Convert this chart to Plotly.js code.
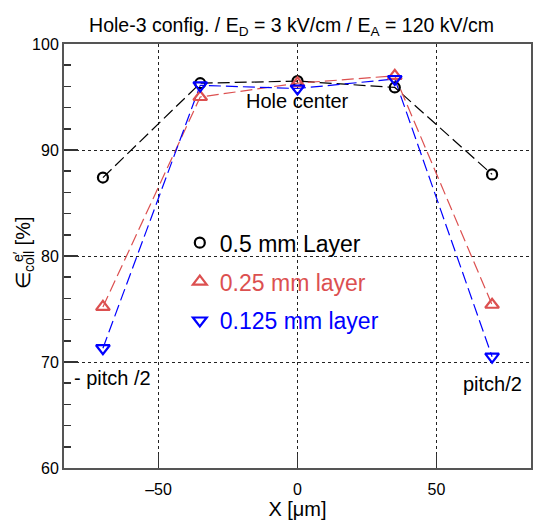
<!DOCTYPE html>
<html>
<head>
<meta charset="utf-8">
<script src="https://cdn.plot.ly/plotly-3.0.1.min.js"></script>
<style>html,body{margin:0;padding:0;background:#fff;}#chart{width:550px;height:528px;}</style>
</head>
<body>
<div id="chart"></div>
<script>
// Data
const xPositions = [-70, -35, 0, 35, 70];
const layer05 = [87.4, 96.3, 96.5, 95.9, 87.7];
const layer025 = [75.2, 95.0, 96.3, 97.0, 75.4];
const layer0125 = [71.3, 96.1, 95.8, 96.7, 70.5];
const seriesNames = ['0.5 mm Layer', '0.25 mm layer', '0.125 mm layer'];
const xTicks = [-50, 0, 50];
const yTicks = [60, 70, 80, 90, 100];

const FONT = 'Liberation Sans, Arial, Helvetica, sans-serif';
const colors = ['#000000', '#dc5050', '#0000ff'];
const symbols = ['circle-open', 'triangle-up-open', 'triangle-down-open'];
const sizes = [10, 12, 12];
const allY = [layer05, layer025, layer0125];

const traces = [];
allY.forEach((ys, i) => {
  traces.push({
    x: xPositions, y: ys, type: 'scatter', mode: 'lines',
    line: {color: colors[i], width: 1.2, dash: '12px,5px'},
    showlegend: false, hoverinfo: 'skip'
  });
});
allY.forEach((ys, i) => {
  traces.push({
    x: xPositions, y: ys, type: 'scatter', mode: 'markers',
    name: '<span style="color:' + colors[i] + '">' + seriesNames[i] + '</span>',
    legendgroup: 'g' + i,
    marker: {symbol: symbols[i], size: sizes[i], color: colors[i], line: {color: colors[i], width: 2.2}},
    showlegend: true
  });
});

const layout = {
  width: 550, height: 528,
  margin: {l: 64, r: 19, t: 44, b: 60},
  paper_bgcolor: '#fff', plot_bgcolor: '#fff',
  font: {family: FONT, size: 16, color: '#000'},
  title: {
    text: 'Hole-3 config. / E<sub>D</sub> = 3 kV/cm / E<sub>A</sub> = 120 kV/cm',
    font: {family: FONT, size: 19.5, color: '#000'},
    x: 0.53, xanchor: 'center', y: 0.953, yanchor: 'middle'
  },
  xaxis: {
    range: [-84, 84], tickvals: xTicks, ticktext: xTicks.map(v => v < 0 ? '\u2013' + Math.abs(v) : String(v)),
    ticks: 'inside', ticklen: 14, tickwidth: 1.5, tickcolor: '#333',
    showline: true, linecolor: '#555', linewidth: 2, mirror: true,
    showgrid: true, gridcolor: '#222', gridwidth: 1, griddash: 'dot', zeroline: false,
    tickfont: {family: FONT, size: 16}, ticklabelstandoff: 6,
    title: {text: 'X [\u03bcm]', font: {family: FONT, size: 20}, standoff: 0}
  },
  yaxis: {
    range: [60, 100], tickvals: yTicks,
    ticks: 'inside', ticklen: 14, tickwidth: 1.5, tickcolor: '#333',
    minor: {dtick: 2, ticks: 'inside', ticklen: 7, tickwidth: 1.5, tickcolor: '#333', showgrid: false},
    showline: true, linecolor: '#555', linewidth: 2, mirror: true,
    showgrid: true, gridcolor: '#222', gridwidth: 1, griddash: 'dot', zeroline: false,
    tickfont: {family: FONT, size: 16}
  },
  legend: {
    x: 0.248, xanchor: 'left', y: 0.582, yanchor: 'top',
    bgcolor: 'rgba(0,0,0,0)', borderwidth: 0,
    font: {family: FONT, size: 23},
    traceorder: 'grouped', tracegroupgap: 6
  },
  annotations: [
    {x: -40 / 467, y: (468 - 253) / 424, xref: 'paper', yref: 'paper', text: '\u2208<sub>coll</sub> [%]',
     textangle: -90, showarrow: false, font: {family: FONT, size: 20, color: '#000'},
     xanchor: 'center', yanchor: 'middle'},
    {x: -46 / 467, y: (468 - 257) / 424, xref: 'paper', yref: 'paper', text: 'e\u2032',
     textangle: -90, showarrow: false, font: {family: FONT, size: 14, color: '#000'},
     xanchor: 'center', yanchor: 'middle'},
    {x: 0, y: 94.6, xref: 'x', yref: 'y', text: 'Hole center', showarrow: false,
     font: {family: FONT, size: 20, color: '#000'}, xanchor: 'center', yanchor: 'middle'},
    {x: -81, y: 68.5, xref: 'x', yref: 'y', text: '- pitch /2', showarrow: false,
     font: {family: FONT, size: 20, color: '#000'}, xanchor: 'left', yanchor: 'middle'},
    {x: 70, y: 67.9, xref: 'x', yref: 'y', text: 'pitch/2', showarrow: false,
     font: {family: FONT, size: 20, color: '#000'}, xanchor: 'center', yanchor: 'middle'}
  ]
};

Plotly.newPlot('chart', traces, layout, {displayModeBar: false, staticPlot: true});
</script>
</body>
</html>
